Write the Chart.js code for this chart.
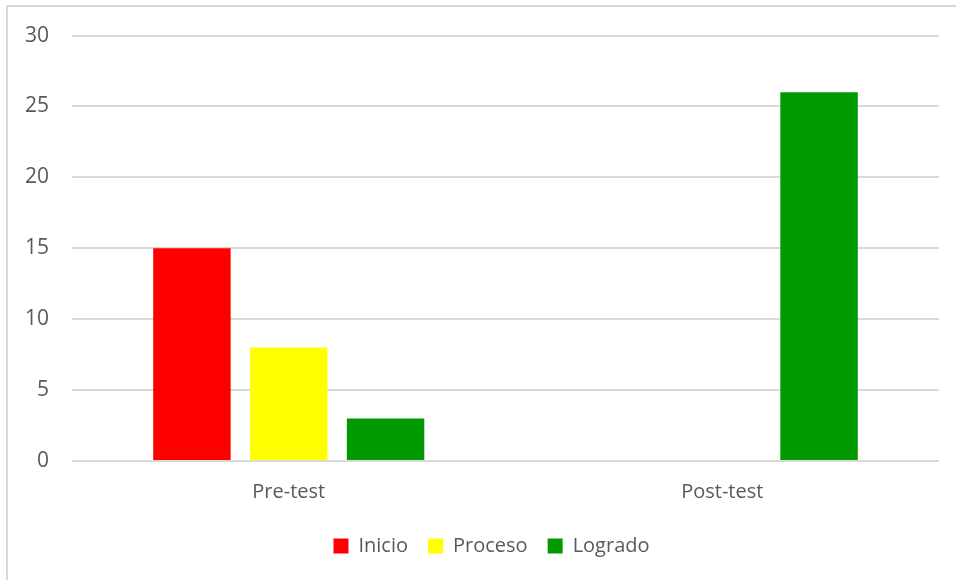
<!DOCTYPE html>
<html>
<head>
<meta charset="utf-8">
<script src="https://cdn.jsdelivr.net/npm/chart.js@4"></script>
<style>
  html, body { margin: 0; padding: 0; background: #fff; overflow: hidden; }
  #frame { position: absolute; left: 6px; top: 5px; width: 1200px; height: 1200px; border: 2px solid #d9d9d9; box-sizing: border-box; }
  #wrap { position: absolute; left: 0; top: 0; width: 956px; height: 580px; }
</style>
</head>
<body>
<div id="frame"></div>
<div id="wrap"><canvas id="c" width="956" height="580"></canvas></div>
<script>
const categories = ['Pre-test', 'Post-test'];
const inicio = [15, 0];
const proceso = [8, 0];
const logrado = [3, 26];
const yTicks = [0, 5, 10, 15, 20, 25, 30];

Chart.defaults.font.family = "'Open Sans', 'Liberation Sans', sans-serif";
Chart.defaults.color = '#595959';

const shiftLegend = {
  id: 'shiftLegend',
  afterLayout(chart) {
    if (chart.legend) {
      chart.legend.left += 12;
      chart.legend.right += 12;
    }
  }
};

new Chart(document.getElementById('c'), {
  type: 'bar',
  data: {
    labels: categories,
    datasets: [
      { label: 'Inicio', data: inicio, backgroundColor: '#ff0000' },
      { label: 'Proceso', data: proceso, backgroundColor: '#ffff00' },
      { label: 'Logrado', data: logrado, backgroundColor: '#009900' }
    ]
  },
  plugins: [shiftLegend],
  options: {
    responsive: false,
    animation: false,
    events: [],
    categoryPercentage: 0.67,
    barPercentage: 0.8,
    layout: { padding: { left: 20, right: 17, top: 35, bottom: 14 } },
    plugins: {
      tooltip: { enabled: false },
      legend: {
        position: 'bottom',
        labels: {
          boxWidth: 15,
          boxHeight: 15,
          padding: 20,
          color: '#595959',
          font: { size: 20 }
        }
      }
    },
    scales: {
      x: {
        grid: { display: false, drawTicks: false },
        border: { display: false },
        ticks: { padding: 19, font: { size: 20 }, color: '#595959' },
        afterFit: (s) => { s.height = 55; }
      },
      y: {
        min: 0,
        max: 30,
        afterBuildTicks: (s) => { s.ticks = yTicks.map(v => ({ value: v })); },
        grid: { color: '#d9d9d9', lineWidth: 2, drawTicks: false },
        border: { display: false },
        ticks: { padding: 23, font: { size: 21 }, color: '#595959' },
        afterFit: (s) => { s.width = 52; }
      }
    }
  }
});
</script>
</body>
</html>
